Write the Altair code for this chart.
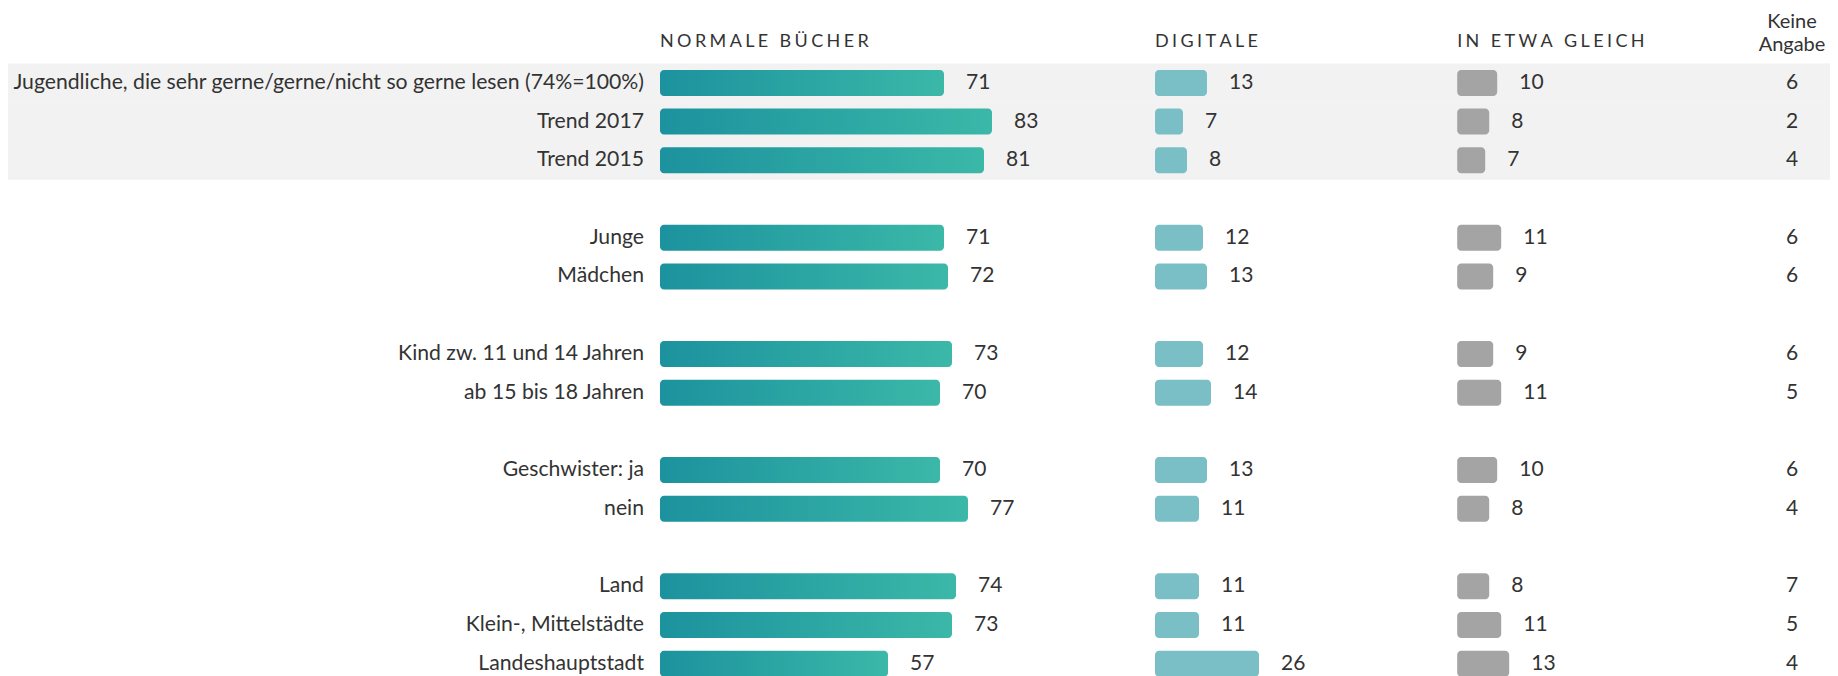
import altair as alt
import pandas as pd

# ---------------- data ----------------
categories = [
    "Jugendliche, die sehr gerne/gerne/nicht so gerne lesen (74%=100%)",
    "Trend 2017",
    "Trend 2015",
    "Junge",
    "Mädchen",
    "Kind zw. 11 und 14 Jahren",
    "ab 15 bis 18 Jahren",
    "Geschwister: ja",
    "nein",
    "Land",
    "Klein-, Mittelstädte",
    "Landeshauptstadt",
]
groups = [0, 0, 0, 1, 1, 2, 2, 3, 3, 4, 4, 4]
shaded = [True, True, True, False, False, False, False, False, False, False, False, False]
normale = [71, 83, 81, 71, 72, 73, 70, 70, 77, 74, 73, 57]
digitale = [13, 7, 8, 12, 13, 12, 14, 13, 11, 11, 11, 26]
gleich = [10, 8, 7, 11, 9, 9, 11, 10, 8, 8, 11, 13]
keine = [6, 2, 4, 6, 6, 6, 5, 6, 4, 7, 5, 4]
headers = ["NORMALE BÜCHER", "DIGITALE", "IN ETWA GLEICH"]
keine_header = "Keine\nAngabe"

# ---------------- layout ----------------
W, H = 1822, 670
ORIGIN_PX = 652                 # where the first bar column starts
UNIT = 4                        # px per percent
XMIN = -ORIGIN_PX / UNIT
XMAX = (W - ORIGIN_PX) / UNIT
col_offsets = [0, 123.75, 199.3]
KEINE_X = 283
STEP = 38.72
PAD_INNER = 0.3287
N_SLOTS = 17
Y0 = 16.8

TEXT = "#333333"
FONT = "Lato"

slots = [i + g + 1 for i, g in enumerate(groups)]

xscale = alt.Scale(domain=[XMIN, XMAX], nice=False, zero=False)
yscale = alt.Scale(domain=list(range(N_SLOTS)), range=[Y0, Y0 + N_SLOTS * STEP],
                   paddingInner=PAD_INNER, paddingOuter=PAD_INNER / 2)


def Y():
    return alt.Y("slot:O", scale=yscale, axis=None)


def bar_df(values, offset):
    return pd.DataFrame({
        "slot": slots,
        "cat": categories,
        "value": values,
        "x0": [offset] * len(values),
        "x1": [offset + v for v in values],
        "label": [str(v) for v in values],
    })


df_norm = bar_df(normale, col_offsets[0])
df_dig = bar_df(digitale, col_offsets[1])
df_gl = bar_df(gleich, col_offsets[2])

df_rows = pd.DataFrame({"slot": slots, "cat": categories, "shaded": shaded,
                        "keine": [str(v) for v in keine]})
df_band = df_rows[df_rows["shaded"]]


def spaced(t):
    return "\u2009\u200a".join(list(t))


df_head = pd.DataFrame({"slot": [0] * 3, "text": [spaced(h) for h in headers], "x": col_offsets})
df_keine_head = pd.DataFrame({"slot": [0], "text": [keine_header]})

band = alt.Chart(df_band).mark_bar(color="#f2f2f2", height=STEP).encode(
    y=Y(),
    x=alt.X(datum=XMIN, scale=xscale, axis=None),
    x2=alt.X2(datum=XMAX),
)

grad = alt.LinearGradient(
    gradient="linear",
    stops=[alt.GradientStop(color="#1c929e", offset=0),
           alt.GradientStop(color="#3bb8a8", offset=1)],
    x1=0, x2=1, y1=0, y2=0,
)


def bars(df, color):
    return alt.Chart(df).mark_bar(color=color, cornerRadius=4).encode(
        y=Y(),
        x=alt.X("x0:Q", scale=xscale, axis=None),
        x2="x1:Q",
    )


def labels(df):
    return alt.Chart(df).mark_text(align="left", baseline="middle", dx=22, fontSize=21,
                                   font=FONT, color=TEXT).encode(
        y=Y(), x=alt.X("x1:Q", scale=xscale, axis=None), text="label:N")


cat_labels = alt.Chart(df_rows).mark_text(align="right", baseline="middle", dx=-16,
                                          fontSize=21.2, font=FONT, color=TEXT).encode(
    y=Y(), x=alt.X(datum=0, scale=xscale, axis=None), text="cat:N")

keine_labels = alt.Chart(df_rows).mark_text(align="center", baseline="middle", fontSize=21,
                                            font=FONT, color=TEXT).encode(
    y=Y(), x=alt.X(datum=KEINE_X, scale=xscale, axis=None), text="keine:N")

head = alt.Chart(df_head).mark_text(align="left", baseline="middle", fontSize=18, dy=-2,
                                    font=FONT, color=TEXT).encode(
    y=Y(), x=alt.X("x:Q", scale=xscale, axis=None), text="text:N")

keine_head = alt.Chart(df_keine_head).mark_text(align="center", baseline="middle", fontSize=20,
                                                font=FONT, color=TEXT, lineBreak="\n",
                                                lineHeight=23.5, dy=-22.5).encode(
    y=Y(), x=alt.X(datum=KEINE_X, scale=xscale, axis=None), text="text:N")

chart = alt.layer(
    band,
    bars(df_norm, grad),
    bars(df_dig, "#7bbfc6"),
    bars(df_gl, "#a4a4a4"),
    labels(df_norm), labels(df_dig), labels(df_gl),
    cat_labels, keine_labels, head, keine_head,
).properties(
    width=W, height=H, padding=0,
    autosize=alt.AutoSizeParams(type="none"),
).configure_view(stroke=None)

chart.save("out.html", embed_options={"renderer": "svg", "actions": False})
